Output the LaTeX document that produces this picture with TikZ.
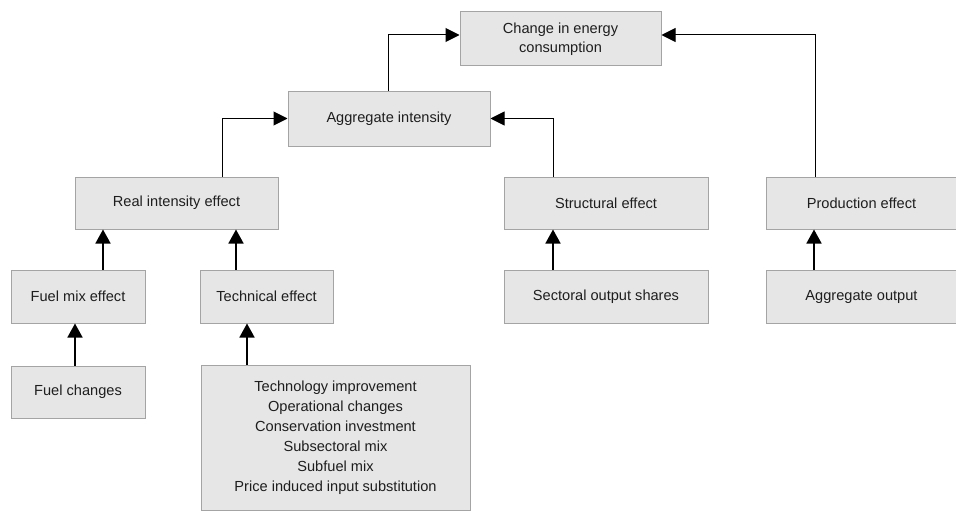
\documentclass[tikz,border=0pt]{standalone}
\usepackage{fontspec}
\setmainfont{Liberation Sans}
\usetikzlibrary{arrows.meta}
\definecolor{boxfill}{HTML}{E6E6E6}
\definecolor{boxline}{HTML}{A4A4A4}
\definecolor{txt}{HTML}{1E1E1E}
\begin{document}
\begin{tikzpicture}[x=1pt,y=-1pt,
  box/.style={draw=boxline, fill=boxfill, line width=1pt, inner sep=0pt, align=center,
    text=txt, font=\fontsize{14.6pt}{19pt}\selectfont},
  elb/.style={draw=black, line width=1pt, -{Triangle[length=14pt,width=14pt]}},
  varr/.style={draw=black, line width=1.6pt, -{Triangle[length=14pt,width=15pt]}}]
\useasboundingbox[fill=white] (0,0) rectangle (956,511);
\node[box, minimum width=201pt, minimum height=54pt] (ch) at (560.5,39) {Change in energy\\consumption};
\node[box, minimum width=202pt, minimum height=55pt] (ai) at (389,118.5) {Aggregate intensity};
\node[box, minimum width=203pt, minimum height=52pt] (ri) at (176.5,203) {Real intensity effect};
\node[box, minimum width=204pt, minimum height=52pt] (se) at (606,203) {Structural effect};
\node[box, minimum width=191pt, minimum height=52pt] (pe) at (861.5,203) {Production effect};
\node[box, minimum width=134pt, minimum height=53pt] (fm) at (78,296.5) {Fuel mix effect};
\node[box, minimum width=133pt, minimum height=53pt] (te) at (266.5,296.5) {Technical effect};
\node[box, minimum width=204pt, minimum height=53pt] (so) at (606,296.5) {Sectoral output shares};
\node[box, minimum width=191pt, minimum height=53pt] (ao) at (861.5,296.5) {Aggregate output};
\node[box, minimum width=134pt, minimum height=52pt] (fc) at (78,392) {Fuel changes};
\node[box, minimum width=269pt, minimum height=145pt, font=\fontsize{14.6pt}{20pt}\selectfont] (big) at (335.5,437.5)
  {Technology improvement\\Operational changes\\Conservation investment\\Subsectoral mix\\Subfuel mix\\Price induced input substitution};
% elbow connectors
\draw[elb] ([xshift=-1pt]ai.north) |- ([yshift=4pt]ch.west);
\draw[elb] ([xshift=-46.5pt]pe.north) |- ([yshift=4pt]ch.east);
\draw[elb] ([xshift=45.5pt]ri.north) |- (ai.west);
\draw[elb] ([xshift=-53pt]se.north) |- (ai.east);
% vertical connectors
\draw[varr] ([xshift=25pt]fm.north) -- ([xshift=25pt]fm.north |- ri.south);
\draw[varr] ([xshift=-30.5pt]te.north) -- ([xshift=-30.5pt]te.north |- ri.south);
\draw[varr] ([xshift=-3pt]fc.north) -- ([xshift=-3pt]fc.north |- fm.south);
\draw[varr] ([xshift=-88.5pt]big.north) -- ([xshift=-88.5pt]big.north |- te.south);
\draw[varr] ([xshift=-53pt]so.north) -- ([xshift=-53pt]so.north |- se.south);
\draw[varr] ([xshift=-47.5pt]ao.north) -- ([xshift=-47.5pt]ao.north |- pe.south);
\end{tikzpicture}
\end{document}
